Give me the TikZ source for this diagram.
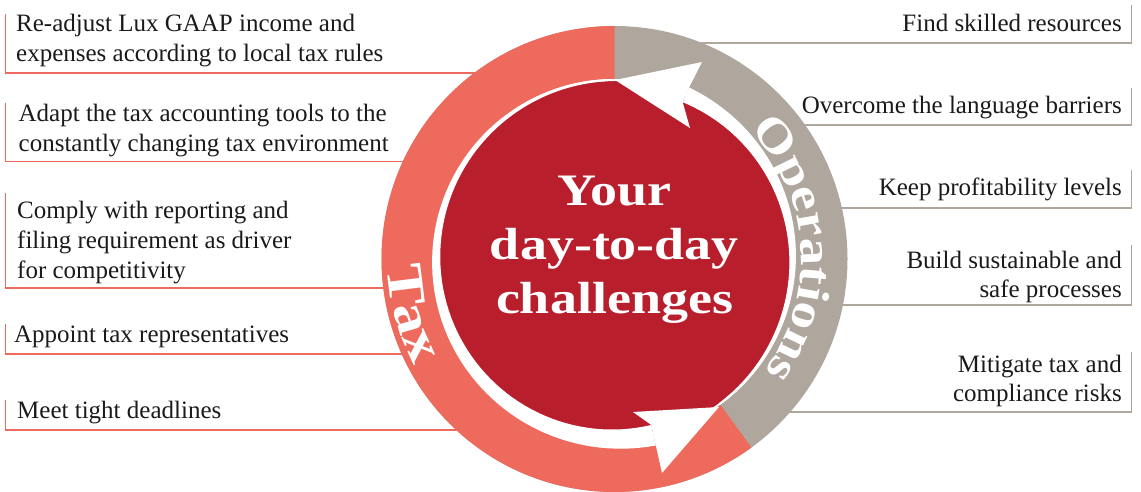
\documentclass[tikz,border=0pt]{standalone}
\usepackage{fontspec}
\setmainfont{Liberation Serif}
\newfontfamily\headfont{Liberation Serif}[FakeStretch=1.2]
\usetikzlibrary{decorations.text}

\definecolor{taxc}{HTML}{EE6A5C}
\definecolor{opsc}{HTML}{AFA69D}
\definecolor{corec}{HTML}{B91E2D}
\definecolor{ink}{HTML}{1A1A1A}

\begin{document}
\begin{tikzpicture}[x=1pt,y=1pt,
  item/.style={font=\fontsize{25}{30}\selectfont, inner sep=0pt, text=ink},
  leftitem/.style={item, align=left, anchor=base west},
  rightitem/.style={item, align=right, anchor=base east},
  taxrule/.style={draw=taxc, line width=1.6pt},
  opsrule/.style={draw=opsc, line width=1.3pt},
  ringlabel/.style={decorate, decoration={text along path, text align=center, text color=white, text={#1}}},
]
\useasboundingbox (0,0) rectangle (1141,491);
\clip (0,0) rectangle (1141,491);
\coordinate (C) at (614.5,232);

% ---- bracket rules of the tax items (left) ----
\coordinate (L1t) at (5.5,477);  \coordinate (L1b) at (5.5,418);
\coordinate (L2t) at (5.5,388);  \coordinate (L2b) at (5.5,329.5);
\coordinate (L3t) at (5.5,298);  \coordinate (L3b) at (5.5,203);
\coordinate (L4t) at (5.5,167);  \coordinate (L4b) at (5.5,137);
\coordinate (L5t) at (5.5,91);   \coordinate (L5b) at (5.5,61);
\foreach \i in {1,...,5}
  \draw[taxrule] (L\i t) -- (L\i b) -- (C |- L\i b);

% ---- bracket rules of the operations items (right) ----
\coordinate (R1t) at (1131.5,486); \coordinate (R1b) at (1131.5,448);
\coordinate (R2t) at (1131.5,403); \coordinate (R2b) at (1131.5,366);
\coordinate (R3t) at (1131.5,321); \coordinate (R3b) at (1131.5,283);
\coordinate (R4t) at (1131.5,246); \coordinate (R4b) at (1131.5,186);
\coordinate (R5t) at (1131.5,139); \coordinate (R5b) at (1131.5,79);
\foreach \i in {1,...,5}
  \draw[opsrule] (R\i t) -- (R\i b) -- (C |- R\i b);

% ---- outer ring: operations and tax sectors ----
\fill[opsc] (C) circle[radius=233];
\fill[taxc] (C) -- ++(90:233) arc[start angle=90, end angle=306, radius=233] -- cycle;
\fill[white] (C) circle[radius=180];
\fill[corec] (C) circle[radius=178];

\begin{scope}[shift={(C)}]
  % tax swoosh: tapers from the top down to the bottom arrowhead
  \fill[white]
    plot[domain=90:282.5, samples=80, variable=\t] (\t:{180+11*((\t-90)/192.5)^2})
    -- plot[domain=282.5:90, samples=80, variable=\t] (\t:{178-8*(\t-90)/192.5})
    -- cycle;
  \fill[white] (104.5,-148) -- (18.5,-153) -- (282.5:170) -- (282.5:191)
    -- (47.5,-214) -- cycle;
  % operations swoosh: tapers from the lower right up to the top arrowhead
  \fill[white]
    plot[domain=-54:66.5, samples=60, variable=\t] (\t:{180+7*((\t+54)/120.5)^2})
    -- plot[domain=66.5:-54, samples=60, variable=\t] (\t:{178-7*(\t+54)/120.5})
    -- cycle;
  \fill[white] (0.5,179) -- (87.5,197) -- (66.5:187) -- (66.5:171)
    -- (75.5,131) -- cycle;

  % ring labels
  \path[ringlabel={|\headfont\bfseries\fontsize{52}{52}\selectfont|Tax}]
    (168:227) arc[start angle=168, end angle=222, radius=227];
  \path[ringlabel={|\headfont\bfseries\fontsize{46}{46}\selectfont|Operations}]
    (60:187) arc[start angle=60, end angle=-53, radius=187];
\end{scope}

% ---- centre ----
\node[font=\headfont\bfseries\fontsize{45}{54}\selectfont, text=white,
      align=center, inner sep=0pt] (core) at (614.5,241.7)
  {Your\\day-to-day\\challenges};

% ---- tax items (anchored on the baseline of their last line) ----
\node[leftitem] (tax1) at (16,429.3)
  {Re-adjust Lux GAAP income and\\expenses according to local tax rules};
\node[leftitem] (tax2) at (18.5,339.3)
  {Adapt the tax accounting tools to the\\constantly changing tax environment};
\node[leftitem] (tax3) at (17,212.7)
  {Comply with reporting and\\filing requirement as driver\\for competitivity};
\node[leftitem] (tax4) at (14,148.7) {Appoint tax representatives};
\node[leftitem] (tax5) at (17,72.7) {Meet tight deadlines};

% ---- operations items ----
\node[rightitem] (ops1) at (1122,459.3) {Find skilled resources};
\node[rightitem] (ops2) at (1122,377.7) {Overcome the language barriers};
\node[rightitem] (ops3) at (1122,295) {Keep profitability levels};
\node[rightitem, font=\fontsize{25}{29}\selectfont] (ops4) at (1122,193.7)
  {Build sustainable and\\safe processes};
\node[rightitem, font=\fontsize{25}{29}\selectfont] (ops5) at (1122,89.3)
  {Mitigate tax and\\compliance risks};
\end{tikzpicture}
\end{document}
